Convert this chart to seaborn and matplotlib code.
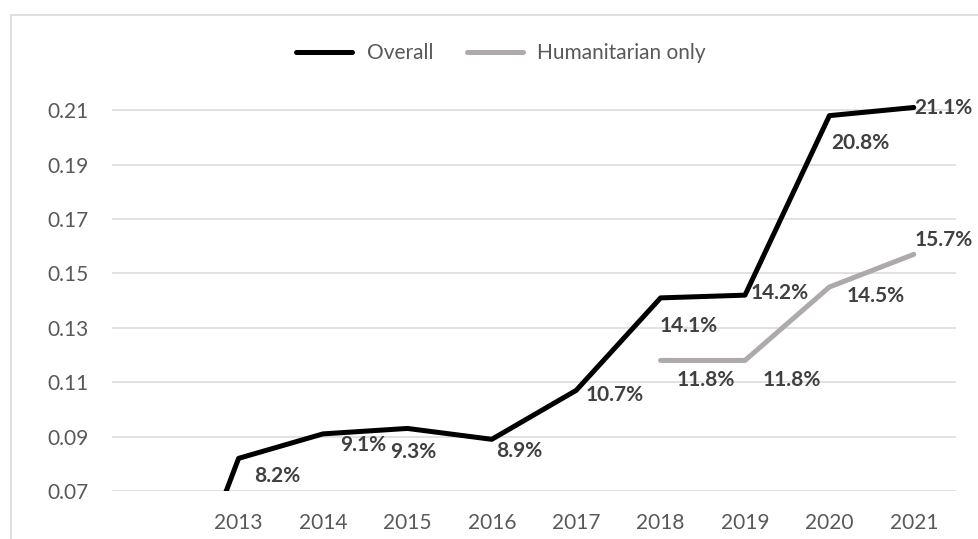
import matplotlib
matplotlib.use("Agg")
import matplotlib.pyplot as plt
import seaborn as sns
import pandas as pd
from matplotlib.patches import Rectangle

# ---- data ----
categories = ["", "2013", "2014", "2015", "2016", "2017", "2018", "2019", "2020", "2021"]
overall = [0.0, 0.082, 0.091, 0.093, 0.089, 0.107, 0.141, 0.142, 0.208, 0.211]
hum_years = ["2018", "2019", "2020", "2021"]
humanitarian = [0.118, 0.118, 0.145, 0.157]
y_ticks = [0.07, 0.09, 0.11, 0.13, 0.15, 0.17, 0.19, 0.21]
series_names = ["Overall", "Humanitarian only"]

# label offsets in pixels (dx right, dy down) - styling only
overall_offsets = [None, (39, 18), (40, 11), (6, 24), (27, 12), (38, 5), (28, 28), (35, -2), (31, 27), (30, 1)]
hum_offsets = [(45, 20), (47, 20), (46, 9), (30, -14)]

sns.set_theme(style="white")
plt.rcParams["font.family"] = ["Lato", "DejaVu Sans"]

df = pd.DataFrame({
    "year": categories + hum_years,
    "value": overall + humanitarian,
    "series": [series_names[0]] * len(categories) + [series_names[1]] * len(hum_years),
})

fig = plt.figure(figsize=(9.79, 5.39), dpi=100)
W, H = 979, 539
ax = fig.add_axes([112 / W, 1 - 491 / H, (956 - 112) / W, (491 - 83) / H])

palette = {series_names[0]: "#000000", series_names[1]: "#AEAAAA"}
sns.lineplot(data=df, x="year", y="value", hue="series", palette=palette,
             sort=False, linewidth=3.6, ax=ax, legend=False)
for ln in ax.lines:
    ln.set_solid_capstyle("round")
    ln.set_solid_joinstyle("round")

ax.set_xlim(-0.5, len(categories) - 0.5)
ax.set_ylim(0.07, 0.22)
ax.set_yticks(y_ticks)
ax.set_yticklabels([f"{t:.2f}" for t in y_ticks])
ax.set_xlabel("")
ax.set_ylabel("")
ax.yaxis.grid(True, color="#D9D9D9", linewidth=1.1)
ax.xaxis.grid(False)
ax.set_axisbelow(True)
for s in ax.spines.values():
    s.set_visible(False)
ax.tick_params(axis="both", length=0, labelsize=15, colors="#595959")
ax.tick_params(axis="y", pad=17)
ax.tick_params(axis="x", pad=16)

# data labels
for i, (v, off) in enumerate(zip(overall, overall_offsets)):
    if off is None:
        continue
    ax.annotate(f"{v * 100:.1f}%", xy=(i, v), xytext=(off[0], -off[1]),
                textcoords="offset pixels", ha="center", va="center",
                fontsize=15, fontweight="bold", color="#404040")
for yr, v, off in zip(hum_years, humanitarian, hum_offsets):
    i = categories.index(yr)
    ax.annotate(f"{v * 100:.1f}%", xy=(i, v), xytext=(off[0], -off[1]),
                textcoords="offset pixels", ha="center", va="center",
                fontsize=15, fontweight="bold", color="#404040")

# legend
from matplotlib.lines import Line2D
handles = [Line2D([], [], color=palette[n], lw=3.6, solid_capstyle="round") for n in series_names]
leg = fig.legend(handles, series_names, loc="center", bbox_to_anchor=(501 / W, 1 - 53 / H),
                 ncol=2, frameon=False, fontsize=15, handlelength=2.7,
                 handletextpad=0.7, columnspacing=1.6)
for t in leg.get_texts():
    t.set_color("#595959")

# outer chart border
fig.patches.append(Rectangle((11 / W, -0.05), 1.1, 1 - 15 / H + 0.05, transform=fig.transFigure,
                             fill=False, edgecolor="#D9D9D9", linewidth=1.2))

fig.savefig("out.png", dpi=100)
